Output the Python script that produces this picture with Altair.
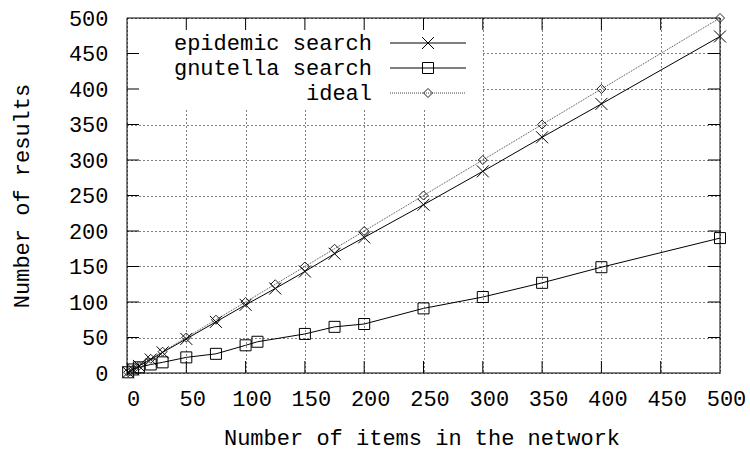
import altair as alt
import pandas as pd

# Measured series
x_epidemic = [1, 5, 10, 20, 30, 50, 75, 100, 125, 150, 175, 200, 250, 300, 350, 400, 500]
y_epidemic = [1, 5, 10, 19, 29, 48, 72, 96, 119, 143, 168, 191, 237, 284, 332, 379, 474]

x_gnutella = [1, 5, 10, 20, 30, 50, 75, 100, 110, 150, 175, 200, 250, 300, 350, 400, 500]
y_gnutella = [1, 5, 8, 12, 15, 22, 27, 39, 44, 55, 65, 69, 91, 107, 127, 149, 190]

x_ideal = [1, 5, 10, 20, 30, 50, 75, 100, 125, 150, 175, 200, 250, 300, 350, 400, 500]
y_ideal = [1, 5, 10, 20, 30, 50, 75, 100, 125, 150, 175, 200, 250, 300, 350, 400, 500]

series_names = ["epidemic search", "gnutella search", "ideal"]

x_ticks = [0, 50, 100, 150, 200, 250, 300, 350, 400, 450, 500]
y_ticks = [0, 50, 100, 150, 200, 250, 300, 350, 400, 450, 500]

W, H = 593, 355
FONT = "Liberation Mono"
FS = 22
TICK = 12
X_PATH = "M-1,-1L1,1M1,-1L-1,1"

xs = alt.Scale(domain=[0, 500], nice=False, zero=False)
ys = alt.Scale(domain=[0, 500], nice=False, zero=False)

x_axis = alt.Axis(
    values=x_ticks, grid=True, gridDash=[1, 3], gridColor="black", gridOpacity=1,
    gridWidth=1, ticks=False, domain=False,
    labelFont=FONT, labelFontSize=FS, labelColor="black", labelPadding=15,
    labelOffset=6, labelFlush=False, labelOverlap=False,
    title="Number of items in the network", titleFont=FONT, titleFontSize=FS,
    titleFontWeight="normal", titleColor="black",
    titleX=W / 2 - 2, titleY=64, titleBaseline="middle",
)
y_axis = alt.Axis(
    values=y_ticks, grid=True, gridDash=[1, 3], gridColor="black", gridOpacity=1,
    gridWidth=1, ticks=False, domain=False,
    labelFont=FONT, labelFontSize=FS, labelColor="black", labelPadding=19,
    labelFlush=False, labelOverlap=False,
    title="Number of results", titleFont=FONT, titleFontSize=FS,
    titleFontWeight="normal", titleColor="black",
    titleX=-106, titleY=H / 2, titleAngle=-90, titleBaseline="middle",
)

df_epi = pd.DataFrame({"x": x_epidemic, "y": y_epidemic})
df_gnu = pd.DataFrame({"x": x_gnutella, "y": y_gnutella})
df_ideal = pd.DataFrame({"x": x_ideal, "y": y_ideal})
one = pd.DataFrame({"k": [0]})


def X(f="x"):
    return alt.X(f"{f}:Q", scale=xs, axis=x_axis)


def Y(f="y"):
    return alt.Y(f"{f}:Q", scale=ys, axis=y_axis)


# Blank area behind the key hides the grid there
key_bg = alt.Chart(one).mark_rect(color="white").encode(
    x=alt.value(1), x2=alt.value(354), y=alt.value(1), y2=alt.value(90)
)

# Inward tick marks on all four sides
inner_x = pd.DataFrame({"v": x_ticks[1:-1]})
inner_y = pd.DataFrame({"v": y_ticks[1:-1]})
ticks = [
    alt.Chart(inner_x).mark_rule(color="black", strokeWidth=1).encode(
        x=X("v"), y=alt.value(H), y2=alt.value(H - TICK)),
    alt.Chart(inner_x).mark_rule(color="black", strokeWidth=1).encode(
        x=X("v"), y=alt.value(0), y2=alt.value(TICK)),
    alt.Chart(inner_y).mark_rule(color="black", strokeWidth=1).encode(
        y=Y("v"), x=alt.value(0), x2=alt.value(TICK)),
    alt.Chart(inner_y).mark_rule(color="black", strokeWidth=1).encode(
        y=Y("v"), x=alt.value(W), x2=alt.value(W - TICK)),
]

frame = alt.Chart(one).mark_rect(filled=False, stroke="black", strokeWidth=1).encode(
    x=alt.value(0), x2=alt.value(W), y=alt.value(0), y2=alt.value(H)
)

styles = [
    # (data, shape, size, dash, line colour, marker colour)
    (df_epi, X_PATH, 144, [], "black", "black"),
    (df_gnu, "square", 121, [], "black", "black"),
    (df_ideal, "diamond", 81, [1, 1], "#444444", "#222222"),
]

series_layers = []
for df, shape, size, dash, col, mcol in styles:
    line_kw = dict(color=col, strokeWidth=1)
    if dash:
        line_kw["strokeDash"] = dash
    series_layers.append(
        alt.Chart(df).mark_line(**line_kw).encode(x=X(), y=Y())
    )
for df, shape, size, dash, col, mcol in styles:
    series_layers.append(
        alt.Chart(df).mark_point(shape=shape, size=size, filled=False,
                                 color=mcol, strokeWidth=1, opacity=1)
        .encode(x=X(), y=Y())
    )

# Key, upper left
legend_layers = []
for i, (name, (df, shape, size, dash, col, mcol)) in enumerate(zip(series_names, styles)):
    yk = 25 + 25 * i
    legend_layers.append(
        alt.Chart(one).mark_text(align="right", baseline="middle", font=FONT,
                                 fontSize=FS, color="black")
        .encode(x=alt.value(245), y=alt.value(yk), text=alt.value(name))
    )
    rule_kw = dict(color=col, strokeWidth=1)
    if dash:
        rule_kw["strokeDash"] = dash
    legend_layers.append(
        alt.Chart(one).mark_rule(**rule_kw)
        .encode(x=alt.value(263), x2=alt.value(339), y=alt.value(yk))
    )
    legend_layers.append(
        alt.Chart(one).mark_point(shape=shape, size=size, filled=False,
                                  color=mcol, strokeWidth=1, opacity=1)
        .encode(x=alt.value(301), y=alt.value(yk))
    )

chart = alt.layer(
    key_bg, *ticks, frame, *series_layers, *legend_layers
).properties(
    width=W, height=H,
    autosize=alt.AutoSizeParams(type="none"),
    padding={"left": 127, "top": 18, "right": 750 - 127 - W, "bottom": 450 - 18 - H},
    background="white",
).configure_view(stroke=None)

chart.save("out.html", embed_options={"renderer": "svg", "actions": False})
